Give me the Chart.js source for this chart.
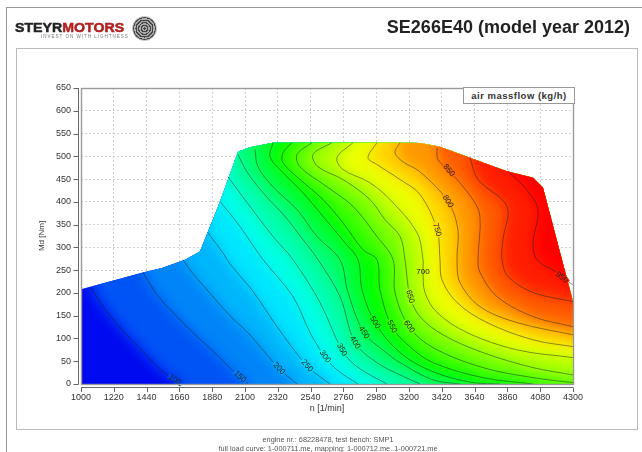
<!DOCTYPE html>
<html>
<head>
<meta charset="utf-8">
<style>
  html, body { margin: 0; padding: 0; background: #fff; }
  body { width: 642px; height: 452px; position: relative; overflow: hidden; font-family: "Liberation Sans", sans-serif; filter: blur(.35px); }
  canvas { position: absolute; left: 0; top: 0; }
  .outer { position: absolute; left: 6px; top: 7px; width: 640px; height: 450px; border: 1px solid #999; }
  .inner { position: absolute; left: 16px; top: 48px; width: 620px; height: 380px; border: 1px solid #bbb; }
  .title { position: absolute; right: 12px; top: 17px; font-size: 18px; font-weight: bold; color: #222; white-space: nowrap; }
  .brand { position: absolute; left: 15px; top: 19px; font-size: 13.5px; line-height: 17px; font-weight: bold; transform: scaleX(1.05); transform-origin: left; color: #222; -webkit-text-stroke: .5px; white-space: nowrap; }
  .brand span { color: #b0201f; }
  .tag { position: absolute; left: 41px; top: 34px; font-size: 4.6px; line-height: 6px; letter-spacing: .95px; color: #777; white-space: nowrap; }
  .emblem { position: absolute; left: 132px; top: 16px; width: 25px; height: 25px; border-radius: 50%; background: repeating-radial-gradient(circle, #444 0 1.2px, #aaa 1.2px 2.6px); border: 1px solid #bbb; box-sizing: border-box; }
  .box { position: absolute; left: 463px; top: 87px; width: 110px; height: 15px; line-height: 15px; background: #fff; border: 1px solid #999; text-align: center; font-size: 9.5px; font-weight: bold; letter-spacing: .5px; color: #333; white-space: nowrap; }
  .foot { position: absolute; left: 7px; width: 642px; text-align: center; font-size: 7.35px; line-height: 9px; top: 435px; color: #555; }
</style>
</head>
<body>
<div class="outer"></div>
<div class="inner"></div>
<canvas id="map" width="642" height="452"></canvas>
<div class="brand">STEYR<span>MOTORS</span></div>
<div class="tag">INVEST ON WITH LIGHTNESS</div>
<div class="emblem"></div>
<div class="title">SE266E40 (model year 2012)</div>
<div class="box">air massflow (kg/h)</div>
<div class="foot">engine nr.: 68228478, test bench: SMP1<br>full load curve: 1-000711.me, mapping: 1-000712.me..1-000721.me</div>
<script src="https://cdn.jsdelivr.net/npm/chart.js@4"></script>
<script>
// full load curve: [n, Md]
var fullLoad = [[1000,208],[1416,245],[1543,255],[1698,273],[1798,291],[1932,400],[2053,510],[2133,520],[2288,530],
  [3140,530],[3274,529],[3408,521],[3609,497],[3857,467],[4032,453],[4099,431],[4226,273],[4300,181],[4300,0],[1000,0]];

var levels = [100,150,200,250,300,350,400,450,500,550,600,650,700,750,800,850,900,950];

// iso lines, same order as levels
var contours = [
  [[1067,212],[1148,170],[1262,124],[1416,71],[1550,27],[1630,9],[1670,0]],
  [[1416,245],[1510,196],[1617,157],[1751,113],[1912,64],[2010,32],[2066,16],[2120,0]],
  [[1684,273],[1744,245],[1845,207],[1999,150],[2133,108],[2328,34],[2449,0]],
  [[1852,332],[1952,288],[1999,264],[2154,203],[2315,126],[2516,40],[2670,0]],
  [[1932,401],[2066,346],[2221,273],[2422,192],[2536,113],[2636,60],[2717,31],[2858,0]],
  [[1986,455],[2133,390],[2288,324],[2422,273],[2603,179],[2750,75],[2851,38],[3052,0]],
  [[2053,504],[2113,466],[2221,420],[2368,368],[2489,317],[2590,273],[2737,192],[2838,91],[2985,47],[3140,20],[3274,0]],
  [[2167,515],[2187,477],[2288,433],[2449,383],[2583,324],[2737,273],[2791,201],[2898,113],[3039,71],[3140,47],[3361,9],[3542,0]],
  [[2288,530],[2268,499],[2355,464],[2489,420],[2623,368],[2771,310],[2858,273],[2885,207],[2972,135],[3140,69],[3361,27],[3629,3],[3810,0]],
  [[2415,530],[2355,508],[2355,486],[2469,449],[2623,405],[2757,354],[2891,295],[2985,273],[3005,207],[3086,126],[3206,82],[3361,47],[3696,14],[4032,0]],
  [[2549,530],[2449,504],[2469,477],[2650,433],[2824,390],[2985,324],[3093,273],[3106,201],[3200,126],[3361,80],[3696,36],[4032,14],[4300,3]],
  [[2683,530],[2556,504],[2590,477],[2757,449],[2938,405],[3039,361],[3140,324],[3173,273],[3207,192],[3274,148],[3428,108],[3696,69],[4032,36],[4300,20]],
  [[2824,530],[2717,497],[2757,471],[2938,442],[3093,398],[3254,332],[3294,273],[3294,247],[3307,201],[3388,157],[3589,113],[3924,75],[4300,58]],
  [[2985,530],[2925,497],[2985,482],[3140,449],[3274,416],[3388,339],[3408,273],[3421,229],[3522,179],[3723,135],[4032,97],[4300,82]],
  [[3140,530],[3106,508],[3160,488],[3274,466],[3461,401],[3528,339],[3522,273],[3542,223],[3676,170],[3924,135],[4300,108]],
  [[3388,519],[3394,493],[3468,469],[3629,405],[3676,368],[3663,273],[3676,245],[3790,192],[4032,148],[4300,126]],
  [[3609,497],[3663,449],[3857,390],[3830,317],[3824,273],[3864,236],[4032,201],[4300,181]],
  [[3864,467],[3978,431],[4065,383],[4032,310],[4058,273],[4193,245],[4226,234],[4300,218]]
];

// which point of each iso line carries its label (-1: none)
var labelAt = [5,6,5,5,5,5,7,7,8,9,8,8,7,5,4,2,-1,6];

// colour map of the picture, value then rgb
var stops = [[50,0,10,240],[300,0,255,255],[525,0,255,0],[740,255,255,0],[950,255,0,0]];

function colorOf(v) {
  for (var i = 1; i < stops.length; i++) {
    if (v <= stops[i][0] || i == stops.length - 1) {
      var a = stops[i-1], b = stops[i];
      var t = Math.min(1, Math.max(0, (v - a[0]) / (b[0] - a[0])));
      return 'rgb(' + [1,2,3].map(function(k) { return Math.round(a[k] + (b[k]-a[k])*t); }).join(',') + ')';
    }
  }
}

function toXY(pts) {
  return pts.map(function(p) { return {x: p[0], y: p[1]}; });
}

function tracePath(ctx, chart, pts) {
  var sx = chart.scales.x, sy = chart.scales.y;
  ctx.beginPath();
  pts.forEach(function(p, i) {
    var x = sx.getPixelForValue(p[0]), y = sy.getPixelForValue(p[1]);
    if (i == 0) ctx.moveTo(x, y); else ctx.lineTo(x, y);
  });
  ctx.closePath();
}

// colour next to a label, on whichever side of the line is inside the map
function sideColor(ctx, chart, px, py, ang) {
  var a = chart.chartArea;
  for (var side = 1; side >= -1; side -= 2) {
    var x = Math.round(px + side * Math.sin(ang) * 6), y = Math.round(py - side * Math.cos(ang) * 6);
    var d = ctx.getImageData(x, y, 1, 1).data;
    var isBlank = d[3] < 255 || (d[0] > 150 && d[1] > 150 && d[2] > 150);
    if (!isBlank && y < a.bottom - 1 && x < a.right - 1) return 'rgb(' + d[0] + ',' + d[1] + ',' + d[2] + ')';
  }
  return null;
}

// the colour bands: everything above an iso line, painted low to high, softened
var shading = {
  id: 'shading',
  beforeDatasetsDraw: function(chart) {
    var ctx = chart.ctx;
    ctx.save();
    tracePath(ctx, chart, fullLoad);
    ctx.clip();
    ctx.fillStyle = colorOf(50);
    ctx.fillRect(0, 0, chart.width, chart.height);
    ctx.filter = 'blur(7px)';
    levels.forEach(function(l, i) {
      var c = contours[i], last = c[c.length-1];
      var pts = c.slice();
      if (last[1] == 0) pts.push([last[0], -80], [4600, -80]);
      else pts.push([4600, last[1]]);
      pts.push([4600, 800], [c[0][0], 800]);
      ctx.fillStyle = colorOf(l + 25);
      tracePath(ctx, chart, pts);
      ctx.fill();
    });
    ctx.restore();
  },
  afterDatasetsDraw: function(chart) {
    var ctx = chart.ctx, a = chart.chartArea, sx = chart.scales.x, sy = chart.scales.y;
    ctx.save();
    // iso line labels, turned along the line, the line broken under them
    ctx.font = '8px "Liberation Sans"';
    ctx.textAlign = 'center';
    ctx.textBaseline = 'middle';
    levels.forEach(function(l, i) {
      var k = labelAt[i];
      if (k < 0) return;
      var c = contours[i];
      var p0 = c[Math.max(0, k-1)], p1 = c[k], p2 = c[Math.min(c.length-1, k+1)];
      var ang = Math.atan2(sy.getPixelForValue(p2[1]) - sy.getPixelForValue(p0[1]),
                           sx.getPixelForValue(p2[0]) - sx.getPixelForValue(p0[0]));
      var px = sx.getPixelForValue(p1[0]), py = sy.getPixelForValue(p1[1]);
      var patch = sideColor(ctx, chart, px, py, ang);
      if (l == 700) { ang = 0; patch = null; }
      ctx.save();
      ctx.translate(px, py);
      ctx.rotate(ang);
      if (patch) {
        ctx.fillStyle = patch;
        ctx.fillRect(-8, -2.5, 16, 5);
      }
      ctx.fillStyle = '#222';
      ctx.fillText(String(l), 0, 0);
      ctx.restore();
    });
    // frame
    ctx.strokeStyle = '#999';
    ctx.lineWidth = 1.4;
    ctx.strokeRect(a.left + .5, a.top + .5, a.width, a.height);
    // detached axes with their ticks
    ctx.strokeStyle = '#666';
    ctx.lineWidth = 1;
    ctx.beginPath();
    ctx.moveTo(a.left - 2.5, a.top); ctx.lineTo(a.left - 2.5, a.bottom + .5);
    ctx.moveTo(a.left, a.bottom + 3.5); ctx.lineTo(a.right, a.bottom + 3.5);
    sy.ticks.forEach(function(t) {
      var y = Math.round(sy.getPixelForValue(t.value)) + .5;
      ctx.moveTo(a.left - 7.5, y); ctx.lineTo(a.left - 2.5, y);
    });
    sx.ticks.forEach(function(t) {
      var x = Math.round(sx.getPixelForValue(t.value)) + .5;
      ctx.moveTo(x, a.bottom + 3.5); ctx.lineTo(x, a.bottom + 8);
    });
    ctx.stroke();
    ctx.restore();
  }
};

new Chart(document.getElementById('map').getContext('2d'), {
  type: 'scatter',
  data: {
    datasets: contours.map(function(c, i) {
      return {
        label: String(levels[i]),
        data: toXY(c),
        showLine: true,
        tension: 0.35,
        borderColor: 'rgba(20,30,20,0.6)',
        borderWidth: 0.8,
        pointRadius: 0
      };
    })
  },
  options: {
    responsive: false,
    animation: false,
    layout: { padding: { left: 37, top: 88, right: 69, bottom: 38 } },
    plugins: { legend: { display: false }, tooltip: { enabled: false } },
    scales: {
      x: {
        type: 'linear',
        min: 1000,
        max: 4300,
        afterBuildTicks: function(s) {
          s.ticks = [];
          for (var v = 1000; v <= 4300; v += 220) s.ticks.push({value: v});
        },
        afterFit: function(s) { s.height = 30; },
        grid: { color: '#c4c4c4', lineWidth: 0.8, drawTicks: false },
        border: { display: false, dash: [2,2] },
        ticks: { padding: 8, autoSkip: false, maxRotation: 0, color: '#333', font: { size: 9, family: '"Liberation Sans"' }, callback: function(v) { return v; } },
        title: { display: true, text: 'n [1/min]', color: '#333', padding: { top: 0, bottom: 0 }, font: { size: 9, family: '"Liberation Sans"' } }
      },
      y: {
        min: 0,
        max: 650,
        afterFit: function(s) { s.width = 44; },
        grid: { color: '#c4c4c4', lineWidth: 0.8, drawTicks: false },
        border: { display: false, dash: [2,2] },
        ticks: { stepSize: 50, padding: 10, color: '#333', font: { size: 9, family: '"Liberation Sans"' } },
        title: { display: true, text: 'Md [Nm]', color: '#333', padding: { top: 0, bottom: 0 }, font: { size: 8, family: '"Liberation Sans"' } }
      }
    }
  },
  plugins: [shading]
});
</script>
</body>
</html>
